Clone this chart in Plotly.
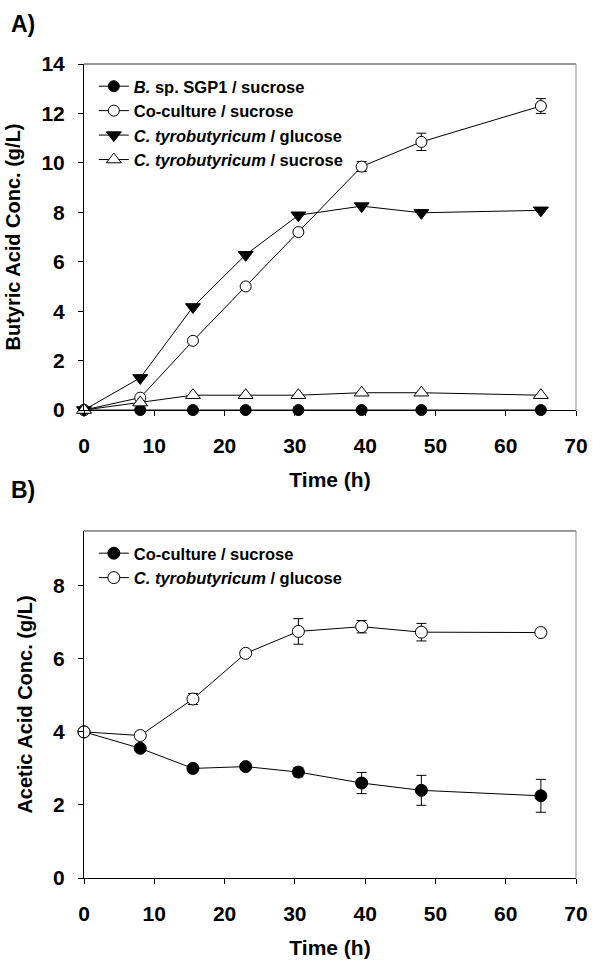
import plotly.graph_objects as go

# ---- data ----
time_h = [0, 8, 15.5, 23, 30.5, 39.5, 48, 65]

# Panel A: butyric acid (g/L)
bsp_sucrose = [0, 0, 0, 0, 0, 0, 0, 0]
co_sucrose_but = [0, 0.5, 2.8, 5.0, 7.2, 9.85, 10.85, 12.3]
co_sucrose_but_err = [0, 0, 0, 0, 0, 0.2, 0.35, 0.3]
ct_glucose_but = [0, 1.3, 4.17, 6.28, 7.88, 8.25, 7.98, 8.08]
ct_sucrose_but = [0, 0.3, 0.6, 0.6, 0.6, 0.7, 0.7, 0.6]

# Panel B: acetic acid (g/L)
co_sucrose_ace = [4.0, 3.55, 3.0, 3.05, 2.9, 2.6, 2.4, 2.25]
co_sucrose_ace_err = [0, 0.08, 0.05, 0.05, 0.13, 0.29, 0.41, 0.45]
ct_glucose_ace = [4.0, 3.9, 4.9, 6.15, 6.75, 6.88, 6.73, 6.72]
ct_glucose_ace_err = [0, 0.1, 0.15, 0.05, 0.35, 0.17, 0.24, 0.05]

x_ticks = [0, 10, 20, 30, 40, 50, 60, 70]
ya_ticks = [0, 2, 4, 6, 8, 10, 12, 14]
yb_ticks = [0, 2, 4, 6, 8]

FONT = "Liberation Sans, Arial, sans-serif"
BLACK = "black"

fig = go.Figure()

def add(x, y, name, symbol, fill, xa, ya, legend, err=None, size=11):
    fig.add_trace(go.Scatter(
        x=x, y=y, name=name, mode="lines+markers",
        xaxis=xa, yaxis=ya, legend=legend,
        line=dict(color=BLACK, width=1),
        marker=dict(symbol=symbol, size=size, color=fill,
                    line=dict(color=BLACK, width=1)),
        error_y=(dict(type="data", array=err, visible=True, color=BLACK,
                      thickness=1, width=5) if err is not None else None),
        cliponaxis=False,
    ))

add(time_h, bsp_sucrose, "<i>B.</i> sp. SGP1 / sucrose", "circle", BLACK, "x", "y", "legend")
add(time_h, co_sucrose_but, "Co-culture / sucrose", "circle", "white", "x", "y", "legend",
    err=co_sucrose_but_err)
add(time_h, ct_glucose_but, "<i>C. tyrobutyricum</i> / glucose", "triangle-down", BLACK,
    "x", "y", "legend", size=13)
add(time_h, ct_sucrose_but, "<i>C. tyrobutyricum</i> / sucrose", "triangle-up", "white",
    "x", "y", "legend", size=13)

add(time_h, co_sucrose_ace, "Co-culture / sucrose", "circle", BLACK, "x2", "y2", "legend2",
    err=co_sucrose_ace_err, size=12)
add(time_h, ct_glucose_ace, "<i>C. tyrobutyricum</i> / glucose", "circle", "white",
    "x2", "y2", "legend2", err=ct_glucose_ace_err, size=12)

tick_font = dict(family=FONT, size=21, color=BLACK, weight="bold")
xtitle_font = dict(family=FONT, size=21, color=BLACK, weight="bold")
ytitle_font = dict(family=FONT, size=20, color=BLACK, weight="bold")
legend_font = dict(family=FONT, size=16.5, color=BLACK, weight="bold")

axis_common = dict(showline=True, linecolor=BLACK, linewidth=1, ticks="outside",
                   ticklen=5, tickwidth=1, tickcolor=BLACK, showgrid=False,
                   zeroline=False, tickfont=tick_font)
x_common = dict(axis_common, ticklabelstandoff=12)
y_common = dict(axis_common, ticklabelstandoff=9)

T, B = 64, 83
H = 968 - T - B
top_dom = [(885 - 413) / H, 1.0]
bot_dom = [0.0, (885 - 535) / H]

fig.update_layout(
    width=600, height=968,
    margin=dict(l=83, r=17, t=T, b=B),
    paper_bgcolor="white", plot_bgcolor="white",
    font=dict(family=FONT, color=BLACK),
    xaxis=dict(domain=[0, 1], anchor="y", range=[0, 70], tickvals=x_ticks,
               title=dict(text="Time (h)", font=xtitle_font, standoff=16), **x_common),
    yaxis=dict(domain=top_dom, anchor="x", range=[0, 14], tickvals=ya_ticks,
               title=dict(text="Butyric Acid Conc. (g/L)", font=ytitle_font, standoff=15),
               **y_common),
    xaxis2=dict(domain=[0, 1], anchor="y2", range=[0, 70], tickvals=x_ticks,
                title=dict(text="Time (h)", font=xtitle_font, standoff=16), **x_common),
    yaxis2=dict(domain=bot_dom, anchor="x2", range=[0, 9.5], tickvals=yb_ticks,
                title=dict(text="Acetic Acid Conc. (g/L)", font=ytitle_font, standoff=15),
                **y_common),
    legend=dict(x=0.02, y=(885 - 69) / H, xanchor="left", yanchor="top",
                bgcolor="rgba(0,0,0,0)", font=legend_font, tracegroupgap=0),
    legend2=dict(x=0.02, y=(885 - 540) / H, xanchor="left", yanchor="top",
                 bgcolor="rgba(0,0,0,0)", font=legend_font, tracegroupgap=0),
    showlegend=True,
)

# top & right frame lines
for xr, yr in (("x domain", "y domain"), ("x2 domain", "y2 domain")):
    fig.add_shape(type="line", xref=xr, yref=yr, x0=0, x1=1, y0=1, y1=1,
                  line=dict(color="#333333", width=1))
    fig.add_shape(type="line", xref=xr, yref=yr, x0=1, x1=1, y0=0, y1=1,
                  line=dict(color="#888888", width=1))

# panel labels
for txt, yy in (("A)", 24), ("B)", 494)):
    fig.add_annotation(text=txt, xref="paper", yref="paper",
                       x=(7 - 83) / 500, y=(885 - yy) / H,
                       xanchor="left", yanchor="middle", showarrow=False,
                       font=dict(family=FONT, size=23, color=BLACK, weight="bold"))

fig.write_html(
    "out.html",
    config={"displayModeBar": False},
    post_script="document.body.style.margin='0';"
                "document.documentElement.style.overflow='hidden';"
                "document.body.style.overflow='hidden';",
)
